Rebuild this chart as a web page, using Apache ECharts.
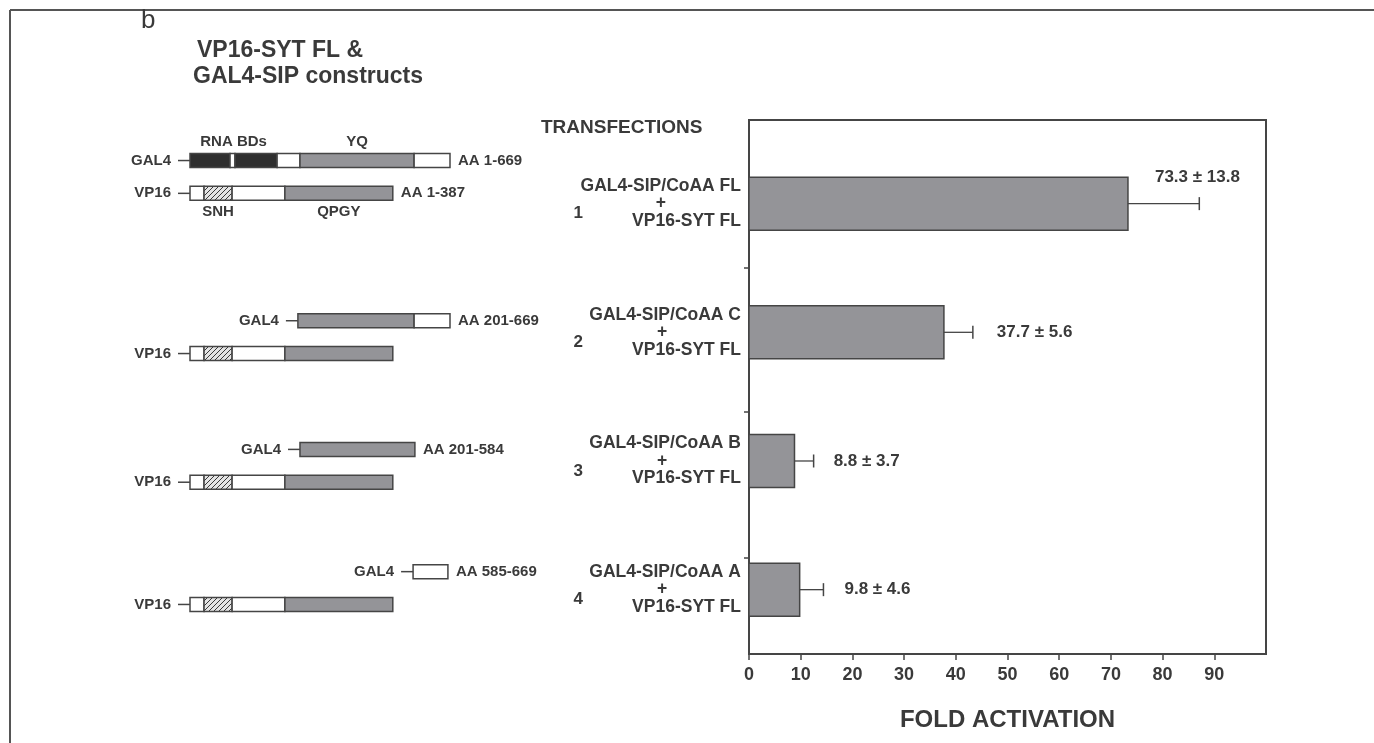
<!DOCTYPE html>
<html>
<head>
<meta charset="utf-8">
<script src="https://cdn.jsdelivr.net/npm/echarts@6/dist/echarts.min.js"></script>
<style>
  html, body { margin: 0; padding: 0; background: #fff; }
  #chart { width: 1374px; height: 743px; }
</style>
</head>
<body>
<div id="chart"></div>
<script>
// ---- Transfection results ----
const transfections = ['GAL4-SIP/CoAA FL', 'GAL4-SIP/CoAA C', 'GAL4-SIP/CoAA B', 'GAL4-SIP/CoAA A'];
const partner = 'VP16-SYT FL';
const foldActivation = [73.3, 37.7, 8.8, 9.8];
const foldError = [13.8, 5.6, 3.7, 4.6];
const foldTicks = [0, 10, 20, 30, 40, 50, 60, 70, 80, 90];

// ---- Construct maps (schematic position along each drawn protein, 0-100) ----
// [construct, start, end, domain kind]
const gal4Segments = [
  [0, 0, 15.4, 'dark'], [0, 15.4, 17.3, 'open'], [0, 17.3, 33.5, 'dark'],
  [0, 33.5, 42.3, 'open'], [0, 42.3, 86.2, 'gray'], [0, 86.2, 100, 'open'],
  [1, 41.5, 86.2, 'gray'], [1, 86.2, 100, 'open'],
  [2, 42.3, 86.5, 'gray'],
  [3, 85.8, 99.2, 'open']
];
const gal4Ranges = ['AA 1-669', 'AA 201-669', 'AA 201-584', 'AA 585-669'];
// VP16-SYT FL, identical in every transfection: [start, end, kind]
const vp16Segments = [[0, 5.4, 'open'], [5.4, 16.2, 'hatch'], [16.2, 36.5, 'open'], [36.5, 78, 'gray']];
const vp16Ranges = ['AA 1-387', '', '', ''];
// domain names written on the first pair: [name, track, start, end]
const domainNames = [
  ['RNA BDs', 'GAL4', 0, 33.5], ['YQ', 'GAL4', 42.3, 86.2],
  ['SNH', 'VP16', 5.4, 16.2], ['QPGY', 'VP16', 36.5, 78]
];

// ---- styling ----
const FONT = '"Liberation Sans", Arial, Helvetica, sans-serif';
const INK = '#3a3a3a';
const EDGE = '#454545';
const BAR_GRAY = '#949498';

function hatchPattern() {
  const c = document.createElement('canvas');
  c.width = 5; c.height = 5;
  const g = c.getContext('2d');
  g.fillStyle = '#e4e4e4';
  g.fillRect(0, 0, 5, 5);
  g.strokeStyle = '#3a3a3a';
  g.lineWidth = 1;
  g.beginPath();
  g.moveTo(0, 5); g.lineTo(5, 0);
  g.moveTo(-1, 1); g.lineTo(1, -1);
  g.moveTo(4, 6); g.lineTo(6, 4);
  g.stroke();
  return { image: c, repeat: 'repeat' };
}
const fills = { dark: '#2f2f2f', open: '#ffffff', gray: BAR_GRAY, hatch: hatchPattern() };

// vertical placement of the two protein rows around each transfection row
const GAL4_ROW = -0.09, VP16_ROW = 0.165;
const rowLift = [0.245, 0, 0, 0.05];
function rowY(c, track) { return c + (track === 'GAL4' ? GAL4_ROW : VP16_ROW) - rowLift[c]; }

// flatten construct drawings
const segItems = [];
gal4Segments.forEach(s => segItems.push({ c: s[0], t: 'GAL4', x0: s[1], x1: s[2], kind: s[3] }));
transfections.forEach((_, c) => vp16Segments.forEach(s => segItems.push({ c, t: 'VP16', x0: s[0], x1: s[1], kind: s[2] })));

const rowItems = [];
transfections.forEach((_, c) => {
  const own = gal4Segments.filter(s => s[0] === c);
  rowItems.push({ c, t: 'GAL4', x0: Math.min(...own.map(s => s[1])), x1: Math.max(...own.map(s => s[2])), range: gal4Ranges[c] });
  rowItems.push({ c, t: 'VP16', x0: vp16Segments[0][0], x1: vp16Segments[vp16Segments.length - 1][1], range: vp16Ranges[c] });
});

function txt(x, y, text, align, vAlign, font) {
  return {
    type: 'text', x, y,
    style: { text, font, fill: INK, align, verticalAlign: vAlign, textAlign: align, textVerticalAlign: vAlign }
  };
}

const Y_MIN = -0.65, Y_MAX = 3.5;
const yBase = { type: 'value', min: Y_MIN, max: Y_MAX, inverse: true, splitLine: { show: false } };

// value label placement: the first sits over the bar's top edge, the rest follow the error cap
const valueLabelPlace = [{ pos: 'top', gap: 27 }, { pos: 'right', gap: 24 }, { pos: 'right', gap: 20 }, { pos: 'right', gap: 21 }];

const chart = echarts.init(document.getElementById('chart'), null, { renderer: 'canvas' });

const option = {
  animation: false,
  backgroundColor: '#ffffff',
  textStyle: { fontFamily: FONT },
  grid: [
    { left: 749, right: 108, top: 120, bottom: 89, show: true, borderColor: EDGE, borderWidth: 2, backgroundColor: 'transparent' },
    { left: 190, width: 260, top: 120, bottom: 89 }
  ],
  xAxis: [
    {
      type: 'value', gridIndex: 0, min: 0, max: 100, interval: 10,
      axisLine: { show: true, onZero: false, lineStyle: { color: EDGE, width: 2 } },
      axisTick: { show: true, inside: false, length: 6, lineStyle: { color: EDGE, width: 1.5 }, customValues: foldTicks },
      axisLabel: {
        margin: 12, color: INK, fontFamily: FONT, fontWeight: 'bold', fontSize: 18,
        customValues: foldTicks,
        formatter: v => String(v)
      },
      splitLine: { show: false },
      name: 'FOLD ACTIVATION', nameLocation: 'middle', nameGap: 54,
      nameTextStyle: { color: INK, fontFamily: FONT, fontWeight: 'bold', fontSize: 24 }
    },
    { type: 'value', gridIndex: 1, min: 0, max: 100, show: false }
  ],
  yAxis: [
    Object.assign({}, yBase, {
      gridIndex: 0,
      axisLine: { show: true, onZero: false, lineStyle: { color: EDGE, width: 2 } },
      axisTick: { show: true, inside: false, length: 5, lineStyle: { color: EDGE, width: 1.5 }, customValues: [0.5, 1.62, 2.75] },
      axisLabel: {
        customValues: [0, 1, 2, 3], margin: 8, align: 'right',
        formatter: v => {
          const i = Math.round(v);
          return '{t|' + transfections[i] + '}\n{p|+}\n{t|' + partner + '}';
        },
        rich: {
          t: { fontFamily: FONT, fontWeight: 'bold', fontSize: 17.5, color: INK, lineHeight: 17.5, align: 'right' },
          p: { fontFamily: FONT, fontWeight: 'bold', fontSize: 17.5, color: INK, lineHeight: 17.5, width: 158, align: 'center' }
        }
      }
    }),
    Object.assign({}, yBase, { gridIndex: 1, show: false })
  ],
  graphic: [
    { type: 'line', shape: { x1: 10, y1: 10, x2: 1374, y2: 10 }, style: { stroke: '#555', lineWidth: 2 } },
    { type: 'line', shape: { x1: 10, y1: 10, x2: 10, y2: 743 }, style: { stroke: '#555', lineWidth: 2 } },
    { type: 'text', left: 141, top: 8, style: { text: 'b', font: '26px ' + FONT, fill: INK } },
    { type: 'text', left: 197, top: 39, style: { text: 'VP16-SYT FL &', font: 'bold 23px ' + FONT, fill: INK } },
    { type: 'text', left: 193, top: 65, style: { text: 'GAL4-SIP constructs', font: 'bold 23px ' + FONT, fill: INK } },
    { type: 'text', left: 541, top: 118, style: { text: 'TRANSFECTIONS', font: 'bold 19px ' + FONT, fill: INK } }
  ],
  series: [
    {
      // fold activation bars
      type: 'custom', xAxisIndex: 0, yAxisIndex: 0, clip: false,
      data: foldActivation.map((v, i) => [v, i]),
      renderItem: (params, api) => {
        const i = params.dataIndex;
        const p0 = api.coord([0, i]);
        const p1 = api.coord([api.value(0), i]);
        const h = 53;
        return {
          type: 'group',
          children: [
            {
              type: 'rect',
              shape: { x: p0[0], y: p0[1] - h / 2, width: p1[0] - p0[0], height: h },
              style: { fill: BAR_GRAY, stroke: EDGE, lineWidth: 1.5 }
            },
            // transfection number, left of the row label
            txt(p0[0] - 166, p0[1] + 10, String(i + 1), 'right', 'middle', 'bold 17px ' + FONT)
          ]
        };
      }
    },
    {
      // error bars and value labels
      type: 'custom', xAxisIndex: 0, yAxisIndex: 0, clip: false,
      data: foldActivation.map((v, i) => [v + foldError[i], i, v]),
      renderItem: (params, api) => {
        const i = params.dataIndex;
        const a = api.coord([api.value(2), i]);
        const b = api.coord([api.value(0), i]);
        const capH = 13;
        const label = foldActivation[i].toFixed(1) + ' \u00b1 ' + foldError[i].toFixed(1);
        const place = valueLabelPlace[i];
        const font = 'bold 17px ' + FONT;
        const t = place.pos === 'top'
          ? txt(a[0] + place.gap, a[1] - 26, label, 'left', 'middle', font)
          : txt(b[0] + place.gap, b[1], label, 'left', 'middle', font);
        return {
          type: 'group',
          children: [
            { type: 'line', shape: { x1: a[0], y1: a[1], x2: b[0], y2: b[1] }, style: { stroke: EDGE, lineWidth: 1.3 } },
            { type: 'line', shape: { x1: b[0], y1: b[1] - capH / 2, x2: b[0], y2: b[1] + capH / 2 }, style: { stroke: EDGE, lineWidth: 1.5 } },
            t
          ]
        };
      }
    },
    {
      // protein domains of each construct
      type: 'custom', xAxisIndex: 1, yAxisIndex: 1, clip: false,
      data: segItems.map(s => [s.x0, rowY(s.c, s.t), s.x1]),
      renderItem: (params, api) => {
        const s = segItems[params.dataIndex];
        const y = rowY(s.c, s.t);
        const p0 = api.coord([s.x0, y]);
        const p1 = api.coord([s.x1, y]);
        const h = 14;
        return {
          type: 'rect',
          shape: { x: p0[0], y: p0[1] - h / 2, width: p1[0] - p0[0], height: h },
          style: { fill: fills[s.kind], stroke: EDGE, lineWidth: 1.5 }
        };
      }
    },
    {
      // fusion partner names, linkers and residue ranges
      type: 'custom', xAxisIndex: 1, yAxisIndex: 1, clip: false,
      data: rowItems.map(r => [r.x0, rowY(r.c, r.t), r.x1]),
      renderItem: (params, api) => {
        const r = rowItems[params.dataIndex];
        const y = rowY(r.c, r.t);
        const a = api.coord([r.x0, y]);
        const b = api.coord([r.x1, y]);
        const font = 'bold 15px ' + FONT;
        const children = [
          { type: 'line', shape: { x1: a[0] - 12, y1: a[1], x2: a[0], y2: a[1] }, style: { stroke: EDGE, lineWidth: 1.5 } },
          txt(a[0] - 19, a[1], r.t, 'right', 'middle', font)
        ];
        if (r.range) children.push(txt(b[0] + 8, b[1], r.range, 'left', 'middle', font));
        return { type: 'group', children };
      }
    },
    {
      // domain names above GAL4 and below VP16
      type: 'custom', xAxisIndex: 1, yAxisIndex: 1, clip: false,
      data: domainNames.map(d => [(d[2] + d[3]) / 2, rowY(0, d[1])]),
      renderItem: (params, api) => {
        const d = domainNames[params.dataIndex];
        const y = rowY(0, d[1]);
        const p = api.coord([(d[2] + d[3]) / 2, y]);
        const dy = d[1] === 'GAL4' ? -19 : 19;
        return txt(p[0], p[1] + dy, d[0], 'center', 'middle', 'bold 15px ' + FONT);
      }
    }
  ]
};

chart.setOption(option);
</script>
</body>
</html>
